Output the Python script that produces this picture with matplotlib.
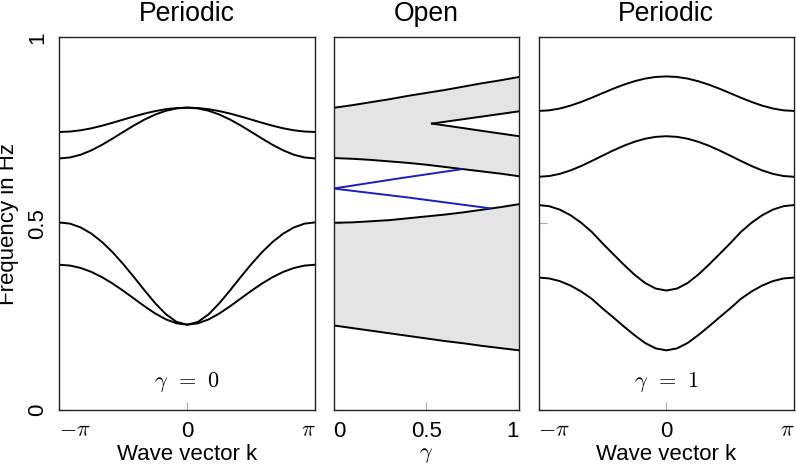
import numpy as np
import matplotlib.pyplot as plt

plt.rcParams['font.family'] = ['Liberation Sans', 'DejaVu Sans']
plt.rcParams['mathtext.fontset'] = 'cm'
plt.rcParams['font.size'] = 16

# wave vector grid, -pi .. pi in steps of pi/12
k = np.linspace(-np.pi, np.pi, 25)

# periodic, gamma = 0 (four bands)
p0_band1 = [0.3891, 0.3869, 0.3804, 0.3699, 0.3557, 0.3385, 0.3189, 0.2981, 0.2772, 0.2580, 0.2422, 0.2317, 0.2280,
            0.2317, 0.2422, 0.2580, 0.2772, 0.2981, 0.3189, 0.3385, 0.3557, 0.3699, 0.3804, 0.3869, 0.3891]
p0_band2 = [0.5030, 0.4996, 0.4894, 0.4728, 0.4503, 0.4225, 0.3905, 0.3557, 0.3198, 0.2854, 0.2559, 0.2354, 0.2280,
            0.2354, 0.2559, 0.2854, 0.3198, 0.3557, 0.3905, 0.4225, 0.4503, 0.4728, 0.4894, 0.4996, 0.5030]
p0_band3 = [0.6749, 0.6775, 0.6849, 0.6966, 0.7115, 0.7285, 0.7463, 0.7637, 0.7796, 0.7930, 0.8031, 0.8093, 0.8115,
            0.8093, 0.8031, 0.7930, 0.7796, 0.7637, 0.7463, 0.7285, 0.7115, 0.6966, 0.6849, 0.6775, 0.6749]
p0_band4 = [0.7460, 0.7472, 0.7506, 0.7559, 0.7629, 0.7709, 0.7794, 0.7878, 0.7956, 0.8022, 0.8073, 0.8104, 0.8115,
            0.8104, 0.8073, 0.8022, 0.7956, 0.7878, 0.7794, 0.7709, 0.7629, 0.7559, 0.7506, 0.7472, 0.7460]

# periodic, gamma = 1
p1_band1 = [0.3547, 0.3523, 0.3451, 0.3333, 0.3173, 0.2976, 0.2720, 0.2480, 0.2235, 0.2000, 0.1789, 0.1643, 0.1590,
            0.1643, 0.1789, 0.2000, 0.2235, 0.2480, 0.2720, 0.2976, 0.3173, 0.3333, 0.3451, 0.3523, 0.3547]
p1_band2 = [0.5496, 0.5465, 0.5373, 0.5223, 0.5021, 0.4775, 0.4470, 0.4180, 0.3895, 0.3627, 0.3401, 0.3251, 0.3198,
            0.3251, 0.3401, 0.3627, 0.3895, 0.4180, 0.4470, 0.4775, 0.5021, 0.5223, 0.5373, 0.5465, 0.5496]
p1_band3 = [0.6255, 0.6276, 0.6334, 0.6427, 0.6545, 0.6681, 0.6823, 0.6962, 0.7089, 0.7197, 0.7278, 0.7329, 0.7346,
            0.7329, 0.7278, 0.7197, 0.7089, 0.6962, 0.6823, 0.6681, 0.6545, 0.6427, 0.6334, 0.6276, 0.6255]
p1_band4 = [0.8025, 0.8042, 0.8091, 0.8168, 0.8267, 0.8381, 0.8502, 0.8622, 0.8731, 0.8824, 0.8895, 0.8939, 0.8954,
            0.8939, 0.8895, 0.8824, 0.8731, 0.8622, 0.8502, 0.8381, 0.8267, 0.8168, 0.8091, 0.8042, 0.8025]

# open chain vs gamma
gam = [0.0, 0.1, 0.2, 0.3, 0.4, 0.5, 0.6, 0.7, 0.8, 0.9, 1.0]
band1_min = [0.226, 0.219, 0.212, 0.205, 0.198, 0.191, 0.184, 0.178, 0.171, 0.165, 0.159]
band2_max = [0.502, 0.503, 0.506, 0.509, 0.514, 0.519, 0.524, 0.530, 0.537, 0.544, 0.552]
band3_min = [0.676, 0.674, 0.671, 0.667, 0.663, 0.658, 0.652, 0.646, 0.640, 0.634, 0.627]
band4_max = [0.811, 0.818, 0.826, 0.834, 0.843, 0.851, 0.859, 0.868, 0.877, 0.885, 0.894]

# inner gap between band 3 and band 4
gap_gam = [0.53, 0.65, 0.80, 1.0]
gap_upper = [0.7686, 0.7770, 0.7875, 0.8016]
gap_lower = [0.7686, 0.7600, 0.7490, 0.7346]

# edge states
edge_up_gam = [0.0, 0.35, 0.69]
edge_up = [0.594, 0.621, 0.646]
edge_dn_gam = [0.0, 0.40, 0.845]
edge_dn = [0.594, 0.570, 0.5407]

pi_ticks = [-np.pi, 0, np.pi]
pi_labels = [r'$-\pi$', '0', r'$\pi$']
gam_ticks = [0, 0.5, 1]
gam_labels = ['0', '0.5', '1']
freq_ticks = [0, 0.5, 1]
freq_labels = ['0', '0.5', '1']

fig = plt.figure(figsize=(7.96, 4.65), dpi=100)
W, H = 796, 465
def px_axes(x0, x1, y0=37.5, y1=409.5):
    return fig.add_axes([x0 / W, (H - y1) / H, (x1 - x0) / W, (y1 - y0) / H])

ax1 = px_axes(59.4, 315.2)
ax2 = px_axes(333.5, 519.2)
ax3 = px_axes(538.5, 794.2)

lw = 1.4
for b in (p0_band1, p0_band2, p0_band3, p0_band4):
    ax1.plot(k, b, color='black', lw=lw)
for b in (p1_band1, p1_band2, p1_band3, p1_band4):
    ax3.plot(k, b, color='black', lw=lw)

gray = '#e4e4e4'
ax2.fill_between(gam, band1_min, band2_max, color=gray, lw=0)
ax2.fill_between(gam, band3_min, band4_max, color=gray, lw=0)
ax2.fill_between(gap_gam, gap_lower, gap_upper, color='white', lw=0)
for b in (band1_min, band2_max, band3_min, band4_max):
    ax2.plot(gam, b, color='black', lw=lw)
ax2.plot(gap_gam, gap_upper, color='black', lw=lw)
ax2.plot(gap_gam, gap_lower, color='black', lw=lw)
ax2.plot(edge_up_gam, edge_up, color='#1c1cc4', lw=lw)
ax2.plot(edge_dn_gam, edge_dn, color='#1c1cc4', lw=lw)

for ax in (ax1, ax2, ax3):
    ax.set_ylim(0, 1)
    ax.set_yticks(freq_ticks)
    ax.tick_params(direction='in', length=6, width=0.8, color='#aaaaaa', pad=8)
    for s in ax.spines.values():
        s.set_linewidth(1.0)
        s.set_color('#222222')

for ax in (ax1, ax3):
    ax.set_xlim(-np.pi, np.pi)
    ax.set_xticks(pi_ticks)
    ax.set_xticklabels(pi_labels)
    ax.set_title('Periodic', pad=12)
    ax.set_xlabel('Wave vector k', labelpad=2)

ax2.set_xlim(0, 1)
ax2.set_xticks(gam_ticks)
ax2.set_xticklabels(gam_labels)
ax2.set_title('Open', pad=12)
ax2.set_xlabel(r'$\gamma$', labelpad=2)

# outer tick labels sit inside the panel width
for ax in (ax1, ax2, ax3):
    labs = ax.get_xticklabels()
    labs[0].set_ha('left')
    labs[-1].set_ha('right')

ax1.set_yticklabels(freq_labels, rotation=90, va='center')
ax2.set_yticklabels([])
ax3.set_yticklabels([])

ax1.text(0, 0.074, r'$\gamma\;\,=\;\,0$', ha='center', va='center', fontsize=16)
ax3.text(0, 0.074, r'$\gamma\;\,=\;\,1$', ha='center', va='center', fontsize=16)

fig.text(9 / W, 1 - 223.5 / H, 'Frequency in Hz', rotation=90, ha='center', va='center')

plt.savefig('out.png', dpi=100)
